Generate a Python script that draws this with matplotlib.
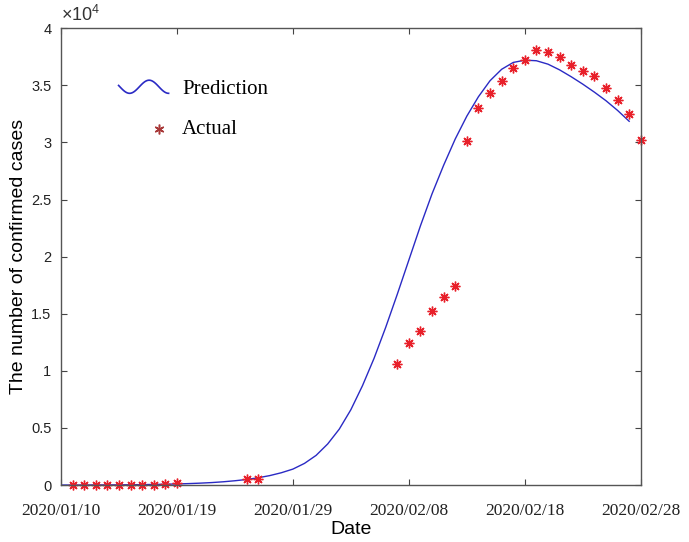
import numpy as np
import matplotlib
matplotlib.use('Agg')
import matplotlib.pyplot as plt
from matplotlib.lines import Line2D
from matplotlib.legend_handler import HandlerBase

plt.rcParams['font.family'] = 'Liberation Sans'
plt.rcParams['axes.linewidth'] = 1.0

# day index (0 = first tick) and values
pred_days = list(range(0, 50))
pred_cases = [3, 5, 8, 12, 16, 22, 30, 40, 55, 75,
              100, 130, 170, 220, 290, 380, 490, 640, 830, 1080,
              1400, 1900, 2600, 3600, 4900, 6600, 8700, 11100, 13800, 16700,
              19700, 22700, 25500, 28000, 30300, 32300, 34000, 35400, 36400, 37000,
              37200, 37150, 36850, 36350, 35750, 35100, 34400, 33650, 32800, 31850]

act_days = [1, 2, 3, 4, 5, 6, 7, 8, 9, 10, 16, 17,
            29, 30, 31, 32, 33, 34, 35, 36, 37, 38, 39, 40,
            41, 42, 43, 44, 45, 46, 47, 48, 49, 50]
act_cases = [41, 41, 41, 41, 41, 41, 41, 45, 121, 198, 495, 572,
             10600, 12400, 13500, 15200, 16500, 17400, 30100, 33000, 34300, 35400, 36500, 37200,
             38050, 37950, 37500, 36750, 36250, 35800, 34750, 33700, 32500, 30200]

tick_pos = [0, 10, 20, 30, 40, 50]
tick_labels = ['2020/01/10', '2020/01/19', '2020/01/29', '2020/02/08', '2020/02/18', '2020/02/28']

line_color = '#2a2ac4'
star_color = '#e8202a'


class WaveHandler(HandlerBase):
    # wavy legend icon for the prediction curve
    def create_artists(self, legend, orig_handle, xdescent, ydescent,
                       width, height, fontsize, trans):
        t = np.linspace(0, 1, 60)
        theta = 1.37 + 8.05 * t
        xs = -xdescent + width * t
        ys = -ydescent + height / 2 + 0.45 * height * np.cos(theta)
        ln = Line2D(xs, ys, color=line_color, lw=1.2)
        ln.set_transform(trans)
        return [ln]


class StarHandler(HandlerBase):
    def create_artists(self, legend, orig_handle, xdescent, ydescent,
                       width, height, fontsize, trans):
        ln = Line2D([-xdescent + 0.8 * width], [-ydescent + height * 0.4],
                    ls='none', marker=(6, 2, 0), markersize=7, mew=1.1,
                    color='#a83838')
        ln.set_transform(trans)
        return [ln]


fig = plt.figure(figsize=(6.89, 5.42), dpi=100)
ax = fig.add_axes([0.0885, 0.105, 0.8415, 0.843])

pred_line, = ax.plot(pred_days, pred_cases, color=line_color, lw=1.0)
act_pts, = ax.plot(act_days, act_cases, ls='none', marker=(8, 2, 0),
                   markersize=7, mew=1.0, color=star_color, clip_on=False)

ax.set_xlim(0, 50)
ax.set_ylim(0, 40000)
ax.set_xticks(tick_pos)
ax.set_xticklabels(tick_labels, family='Liberation Serif', fontsize=12.5)
ax.set_yticks(np.arange(0, 40001, 5000))
ax.yaxis.set_major_formatter(plt.FuncFormatter(lambda v, p: f'{v / 1e4:g}'))
for lab in ax.get_yticklabels():
    lab.set_fontsize(10.5)

ax.tick_params(direction='in', length=4, width=0.8, color='#444444',
               top=True, right=True, labelcolor='#222222')
ax.tick_params(axis='x', pad=13)
ax.tick_params(axis='y', pad=7)
for s in ax.spines.values():
    s.set_color('#555555')

ax.text(0.0, 1.006, '×$\\mathregular{10^{4}}$', transform=ax.transAxes,
        fontsize=13, color='#333333', ha='left', va='bottom')

ax.set_xlabel('Date', fontsize=14, labelpad=1)
ax.set_ylabel('The number of confirmed cases', fontsize=14, labelpad=3)

ax.legend([pred_line, act_pts], ['Prediction', 'Actual'],
          handler_map={pred_line: WaveHandler(), act_pts: StarHandler()},
          loc='upper left', bbox_to_anchor=(0.085, 0.906), frameon=False,
          prop={'family': 'Liberation Serif', 'size': 15},
          handlelength=2.4, handletextpad=0.65, labelspacing=1.0,
          borderaxespad=0)

fig.savefig('out.png', dpi=100)
